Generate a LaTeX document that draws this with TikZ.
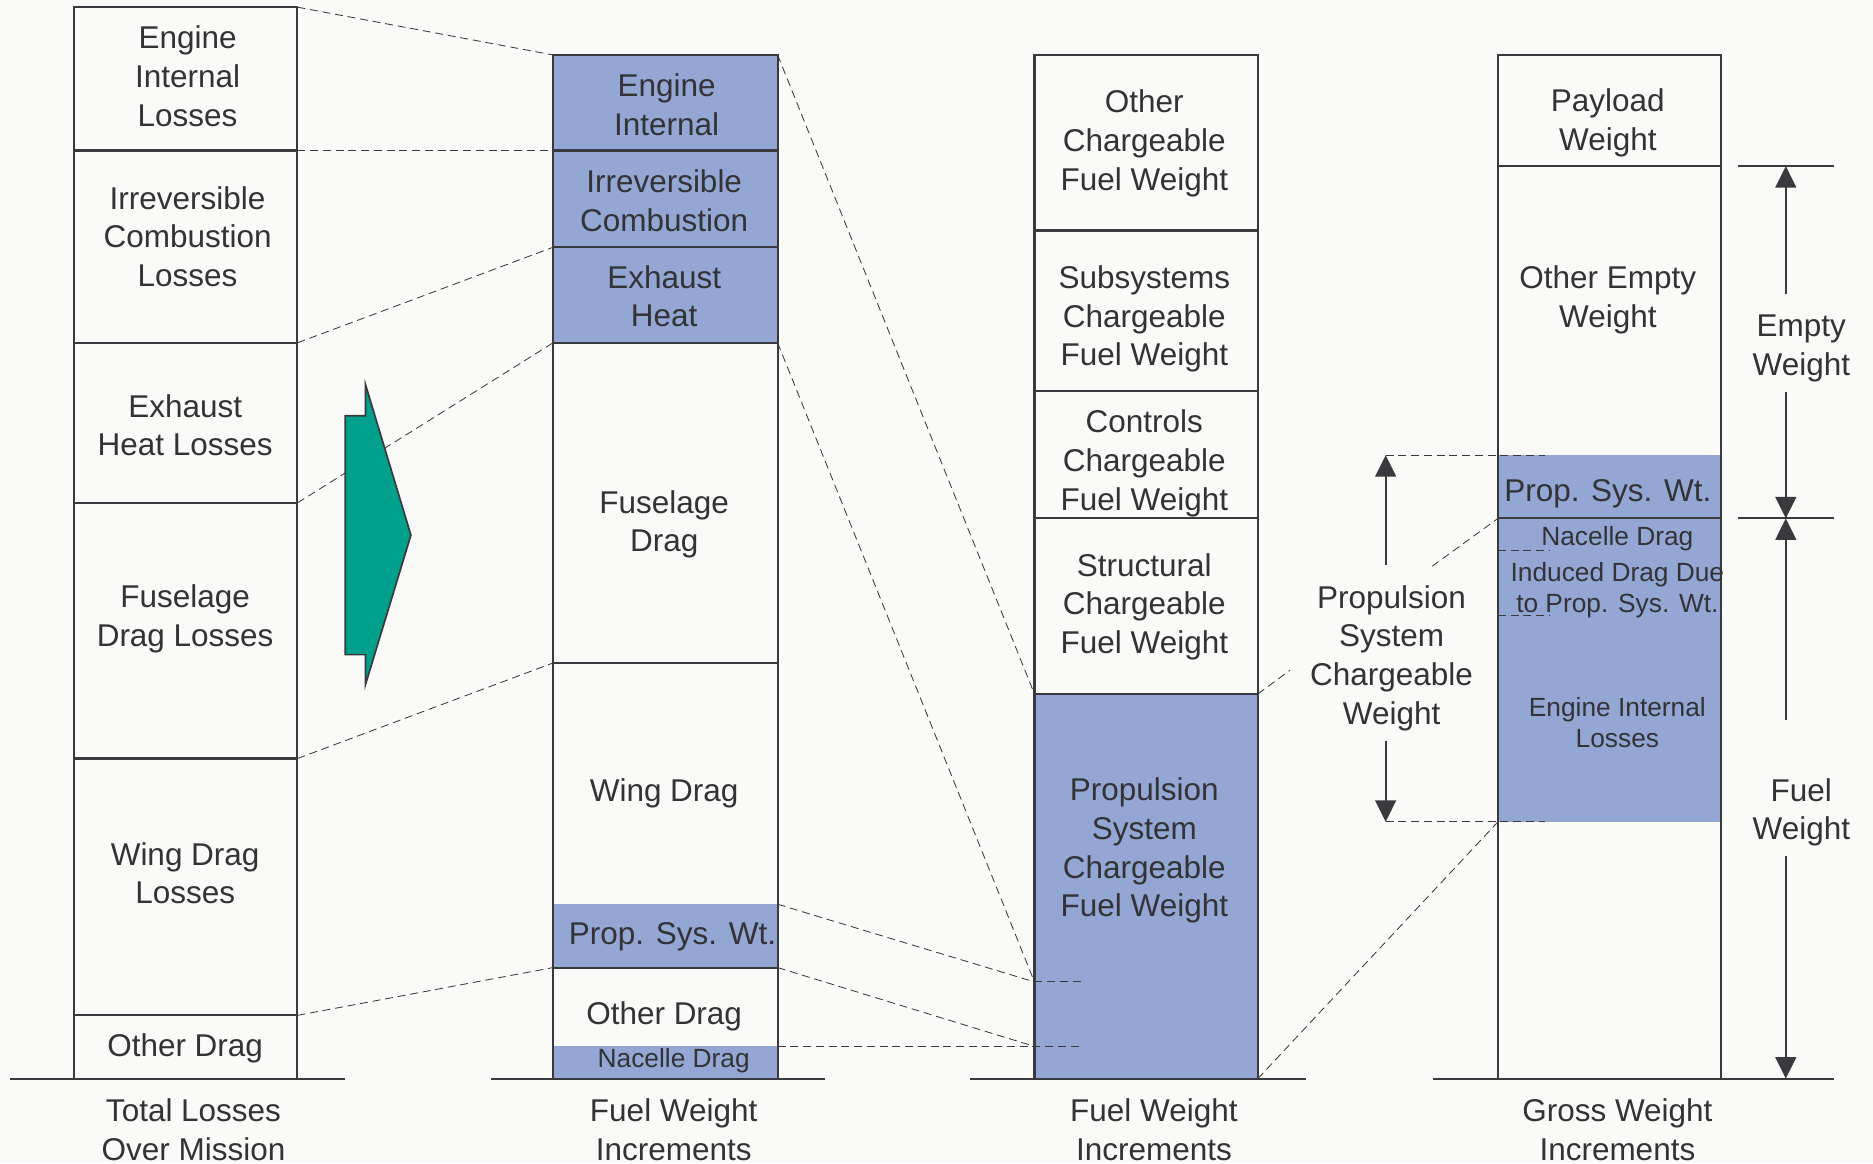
\documentclass[tikz,border=0pt]{standalone}
\usepackage{fontspec}
\setmainfont{Liberation Sans}
\usetikzlibrary{arrows.meta}
\definecolor{bg}{HTML}{FAFAF8}
\definecolor{ink}{HTML}{3A3A3E}
\definecolor{txt}{HTML}{333336}
\definecolor{propblue}{HTML}{93A6D4}
\definecolor{teal}{HTML}{00A08C}
\begin{document}
\begin{tikzpicture}[x=0.03cm,y=-0.03cm,
  box/.style={draw=ink,line width=1.5pt},
  rule/.style={draw=ink,line width=1.5pt},
  leader/.style={draw=ink,line width=0.6pt,dash pattern=on 2mm off 1.2mm},
  lbl/.style={text=txt,align=center,inner sep=0pt,font=\fontsize{22.5}{27.7}\selectfont},
  slbl/.style={text=txt,align=center,inner sep=0pt,font=\fontsize{18.8}{22.2}\selectfont},
  dim/.style={draw=ink,line width=1.6pt,-{Triangle[length=5.4mm,width=5.2mm]}}]
\useasboundingbox (0,0) rectangle (1568,974);
\fill[bg] (0,0) rectangle (1568,974);

% ---------- column corner coordinates ----------
% column 1: total losses
\coordinate (a0) at (249,6);   \coordinate (a1) at (249,126);
\coordinate (a2) at (249,287); \coordinate (a3) at (249,421);
\coordinate (a4) at (249,635); \coordinate (a5) at (249,850);
% column 2: fuel weight increments (left / right edges)
\coordinate (b0) at (463,46);  \coordinate (b1) at (463,126);
\coordinate (b2) at (463,207); \coordinate (b3) at (463,287);
\coordinate (b4) at (463,555); \coordinate (b5) at (463,810);
\coordinate (r0) at (651,46);  \coordinate (r3) at (651,287);
\coordinate (r6) at (651,757); \coordinate (r5) at (651,810);
\coordinate (r7) at (651,876);
% column 3
\coordinate (c4) at (866,581); \coordinate (c8) at (866,822);
\coordinate (c9) at (866,876);
\coordinate (c8e) at (907,822); \coordinate (c9e) at (907,876);
\coordinate (cR4) at (1053,581); \coordinate (cRb) at (1053,903);
% column 4
\coordinate (d2) at (1254,434); \coordinate (d5) at (1254,688);
\coordinate (d3) at (1254,461); \coordinate (d3e) at (1297,461);
\coordinate (d4) at (1254,515); \coordinate (d4e) at (1297,515);

% ---------- fills ----------
\fill[propblue] (463,46) rectangle (651,287);
\fill[propblue] (463,757) rectangle (651,810);
\fill[propblue] (463,876) rectangle (651,903);
\fill[propblue] (866,581) rectangle (1053,903);
\fill[propblue] (1254,381) rectangle (1441,688);

% ---------- dashed leaders between columns ----------
\draw[leader] (a0) -- (b0);
\draw[leader] (a1) -- (b1);
\draw[leader] (a2) -- (b2);
\draw[leader] (a3) -- (b3);
\draw[leader] (a4) -- (b4);
\draw[leader] (a5) -- (b5);
\draw[leader] (r0) -- (c4);
\draw[leader] (r3) -- (c8);
\draw[leader] (r6) -- (c8);
\draw[leader] (r5) -- (c9);
\draw[leader] (r7) -- (c9e);
\draw[leader] (c8) -- (c8e);
\draw[leader] (cRb) -- (d5);
\draw[leader] (d3) -- (d3e);
\draw[leader] (d4) -- (d4e);

% ---------- columns ----------
% column 1
\draw[box] (62,903) -- (62,6) -- (249,6) -- (249,903);
\foreach \y in {126,287,421,635,850} \draw[box] (62,\y) -- (249,\y);
\draw[rule] (8,903) -- (289,903);
% column 2
\draw[box] (463,903) -- (463,46) -- (651,46) -- (651,903);
\foreach \y in {126,207,287,555,810} \draw[box] (463,\y) -- (651,\y);
\draw[rule] (411,903) -- (691,903);
% column 3
\draw[box] (866,903) -- (866,46) -- (1053,46) -- (1053,903);
\foreach \y in {193,327,434,581} \draw[box] (866,\y) -- (1053,\y);
\draw[rule] (812,903) -- (1093,903);
% column 4
\draw[box] (1254,903) -- (1254,46) -- (1441,46) -- (1441,903);
\foreach \y in {139,434} \draw[box] (1254,\y) -- (1441,\y);
\draw[rule] (1200,903) -- (1535,903);

% ---------- teal block arrow ----------
\fill[teal,draw=ink,line width=1.2pt]
  (306,322) -- (344,448) -- (306,573) -- (306,548) -- (289,548)
  -- (289,348) -- (306,348) -- cycle;

% ---------- column 1 texts ----------
\node[lbl] (t1a) at (157,64)  {Engine\\Internal\\Losses};
\node[lbl] (t1b) at (157,198) {Irreversible\\Combustion\\Losses};
\node[lbl] (t1c) at (155,356) {Exhaust\\Heat Losses};
\node[lbl] (t1d) at (155,518) {Fuselage\\Drag Losses};
\node[lbl] (t1e) at (155,731) {Wing Drag\\Losses};
\node[lbl] (t1f) at (155,878) {Other Drag};
\node[lbl] (t1g) at (162,946) {Total Losses\\Over Mission};

% ---------- column 2 texts ----------
\node[lbl] (t2a) at (558,88)  {Engine\\Internal};
\node[lbl] (t2b) at (556,168) {Irreversible\\Combustion};
\node[lbl] (t2c) at (556,248) {Exhaust\\Heat};
\node[lbl] (t2d) at (556,439) {Fuselage\\Drag};
\node[lbl] (t2e) at (556,664) {Wing Drag};
\node[lbl] (t2f) at (563,784) {Prop. Sys. Wt.};
\node[lbl] (t2g) at (556,851) {Other Drag};
\node[slbl] (t2h) at (564,888) {Nacelle Drag};
\node[lbl] (t2i) at (564,946) {Fuel Weight\\Increments};

% ---------- column 3 texts ----------
\node[lbl] (t3a) at (958,120) {Other\\Chargeable\\Fuel Weight};
\node[lbl] (t3b) at (958,267) {Subsystems\\Chargeable\\Fuel Weight};
\node[lbl] (t3c) at (958,388) {Controls\\Chargeable\\Fuel Weight};
\node[lbl] (t3d) at (958,508) {Structural\\Chargeable\\Fuel Weight};
\node[lbl] (t3e) at (958,712) {Propulsion\\System\\Chargeable\\Fuel Weight};
\node[lbl] (t3f) at (966,946) {Fuel Weight\\Increments};

% ---------- column 4 texts ----------
\node[lbl] (t4a) at (1346,103) {Payload\\Weight};
\node[lbl] (t4b) at (1346,251) {Other Empty\\Weight};
\node[lbl] (t4c) at (1346,413) {Prop. Sys. Wt.};
\node[slbl] (t4d) at (1354,451) {Nacelle Drag};
\node[slbl] (t4e) at (1354,494) {Induced Drag Due\\to Prop. Sys. Wt.};
\node[slbl] (t4f) at (1354,605) {Engine Internal\\Losses};
\node[lbl] (t4g) at (1354,946) {Gross Weight\\Increments};

% ---------- propulsion system chargeable weight bracket ----------
\node[lbl] (psw) at (1165,551) {Propulsion\\System\\Chargeable\\Weight};
\coordinate (pup) at (1160,381);
\coordinate (pdn) at (1160,688);
\coordinate (pupe) at (1293,381);
\coordinate (pdne) at (1293,688);
\coordinate (pst) at (1160,473);
\coordinate (psb) at (1160,620);
\draw[leader] (pup) -- (pupe);
\draw[leader] (pdn) -- (pdne);
\draw[dim] (pst) -- (pup);
\draw[dim] (psb) -- (pdn);
\coordinate (pl1) at (1080,561);
\coordinate (pl2) at (1199,474);
\draw[leader] (cR4) -- (pl1);
\draw[leader] (pl2) -- (d2);

% ---------- empty / fuel weight dimensions ----------
\coordinate (eT) at (1495,139);
\coordinate (eB) at (1495,434);
\coordinate (fB) at (1495,903);
\draw[rule] (1455,139) -- (1535,139);
\draw[rule] (1455,434) -- (1535,434);
\node[lbl] (ew) at (1508,292) {Empty\\Weight};
\node[lbl] (fw) at (1508,680) {Fuel\\Weight};
\coordinate (ewt) at (1495,246);
\coordinate (ewb) at (1495,328);
\coordinate (fwt) at (1495,603);
\coordinate (fwb) at (1495,717);
\draw[dim] (ewt) -- (eT);
\draw[dim] (ewb) -- (eB);
\draw[dim] (fwt) -- (eB);
\draw[dim] (fwb) -- (fB);
\end{tikzpicture}
\end{document}
